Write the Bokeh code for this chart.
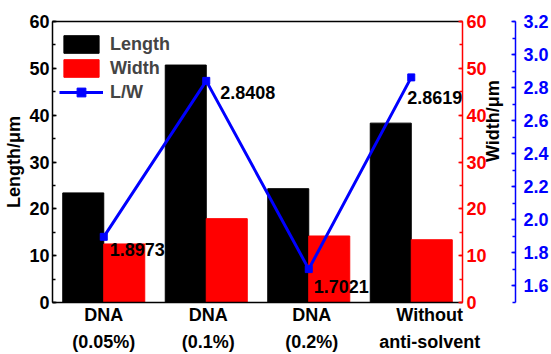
import math

from bokeh.plotting import figure
from bokeh.models import (Range1d, LinearAxis, SingleIntervalTicker, FixedTicker, CustomJSTickFormatter,
                          ColumnDataSource, Legend, LegendItem, LabelSet, NumeralTickFormatter)
from bokeh.core.properties import value
from bokeh.transform import dodge
from bokeh.embed import file_html
from bokeh.resources import INLINE

# ---- data ----
categories = ["DNA\n(0.05%)", "DNA\n(0.1%)", "DNA\n(0.2%)", "Without\nanti-solvent"]
length_um = [23.4, 50.7, 24.3, 38.3]
width_um = [12.5, 17.9, 14.2, 13.4]
ratio_lw = [1.8973, 2.8408, 1.7021, 2.8619]

FONT = "Liberation Sans"
BLUE = "#0000ff"
RED = "#ff0000"

# screen offsets for the ratio text next to the L/W points
ratio_dx = [6, 14, 5, -4]
ratio_dy = [-13, -12, -17, -20]
# nudge of each category name along x (in category widths)
name_shift = [0.0, 0.02, 0.03, 0.18]

# each category occupies one unit on x, centred at i + 0.5
pos = [i + 0.5 for i in range(len(categories))]

src = ColumnDataSource(dict(
    pos=pos,
    length=length_um,
    width=width_um,
    ratio=ratio_lw,
    ratio_text=[f"{r:.4f}" for r in ratio_lw],
    rdx=ratio_dx,
    rdy=ratio_dy,
))

p = figure(
    width=551, height=354,
    x_range=Range1d(0, len(categories)),
    y_range=Range1d(0, 60),
    output_backend="svg", toolbar_location=None,
    min_border_left=52, min_border_right=83, min_border_top=21, min_border_bottom=51,
    x_axis_location=None, y_axis_location=None,
)
p.extra_y_ranges = {"width": Range1d(0, 60), "lw": Range1d(1.5, 3.2)}
p.outline_line_color = None
p.xgrid.visible = False
p.ygrid.visible = False
p.background_fill_color = "white"
p.border_fill_color = "white"


def style_axis(ax, color, label_color="black"):
    ax.axis_line_color = color
    ax.axis_line_width = 1.5
    ax.major_tick_line_color = color
    ax.minor_tick_line_color = color
    ax.major_tick_line_width = 1.5
    ax.minor_tick_line_width = 1.5
    ax.major_tick_in = 4
    ax.major_tick_out = 0
    ax.minor_tick_in = 3
    ax.minor_tick_out = 0
    ax.major_label_text_font = FONT
    ax.major_label_text_font_style = "bold"
    ax.major_label_text_font_size = "18px"
    ax.major_label_text_color = color
    ax.axis_label_text_font = FONT
    ax.axis_label_text_font_style = "bold"
    ax.axis_label_text_font_size = "18px"
    ax.axis_label_text_color = label_color


# left axis: Length
left_ax = LinearAxis(ticker=SingleIntervalTicker(interval=10, num_minor_ticks=2), axis_label="Length/μm")
style_axis(left_ax, "black")
left_ax.major_label_standoff = 3
left_ax.axis_label_standoff = 2
p.add_layout(left_ax, "left")

# right axis: Width (same scale as Length)
red_ax = LinearAxis(y_range_name="width", ticker=SingleIntervalTicker(interval=10, num_minor_ticks=2),
                    axis_label="Width/μm")
style_axis(red_ax, RED)
red_ax.major_label_standoff = 4
red_ax.axis_label_standoff = 3
try:
    red_ax.axis_label_orientation = math.pi / 2
except AttributeError:
    pass
p.add_layout(red_ax, "right")

# outer right axis: L/W ratio
blue_ax = LinearAxis(y_range_name="lw", ticker=SingleIntervalTicker(interval=0.2, num_minor_ticks=2),
                     formatter=NumeralTickFormatter(format="0.0"))
style_axis(blue_ax, BLUE)
blue_ax.major_label_standoff = 8
p.add_layout(blue_ax, "right")

# bottom axis: category names, no tick marks
name_ticks = [x + s for x, s in zip(pos, name_shift)]
bottom_ax = LinearAxis(ticker=FixedTicker(ticks=name_ticks, minor_ticks=[]),
                       formatter=CustomJSTickFormatter(args=dict(names=categories),
                                                       code="return names[index]"))
style_axis(bottom_ax, "black")
bottom_ax.major_tick_line_color = None
bottom_ax.minor_tick_line_color = None
bottom_ax.major_label_standoff = 2
bottom_ax.major_label_text_line_height = 1.35
p.add_layout(bottom_ax, "below")

# top frame line
top_ax = LinearAxis(ticker=FixedTicker(ticks=[]))
top_ax.axis_line_color = "black"
top_ax.axis_line_width = 1.5
top_ax.major_tick_line_color = None
top_ax.minor_tick_line_color = None
p.add_layout(top_ax, "above")

# bars
b_len = p.vbar(x=dodge("pos", -0.2), top="length", width=0.4, source=src,
               fill_color="black", line_color="black")
b_wid = p.vbar(x=dodge("pos", 0.2), top="width", width=0.4, source=src,
               fill_color=RED, line_color=RED, y_range_name="width")

# L/W line with square markers
r_line = p.line(x="pos", y="ratio", source=src, line_color=BLUE, line_width=3, y_range_name="lw")
r_pts = p.scatter(x="pos", y="ratio", source=src, marker="square", size=7,
                  fill_color=BLUE, line_color=BLUE, y_range_name="lw")

# ratio value labels
ratio_labels = LabelSet(x="pos", y="ratio", text="ratio_text", source=src, y_range_name="lw",
                        x_offset="rdx", y_offset="rdy", text_align="left", text_baseline="middle",
                        text_font=value(FONT), text_font_style="bold", text_font_size="18px",
                        text_color="black")
p.add_layout(ratio_labels)

legend = Legend(items=[
    LegendItem(label="Length", renderers=[b_len]),
    LegendItem(label="Width", renderers=[b_wid]),
    LegendItem(label="L/W", renderers=[r_line, r_pts]),
], location=(7, 199))
legend.margin = 0
legend.padding = 0
legend.spacing = 2
legend.glyph_width = 44
legend.glyph_height = 22
legend.label_height = 22
legend.label_standoff = 7
legend.label_text_font = FONT
legend.label_text_font_style = "bold"
legend.label_text_font_size = "18px"
legend.label_text_baseline = "middle"
legend.border_line_color = None
legend.background_fill_alpha = 0
p.add_layout(legend)

open("out.html", "w").write(file_html(p, INLINE))
